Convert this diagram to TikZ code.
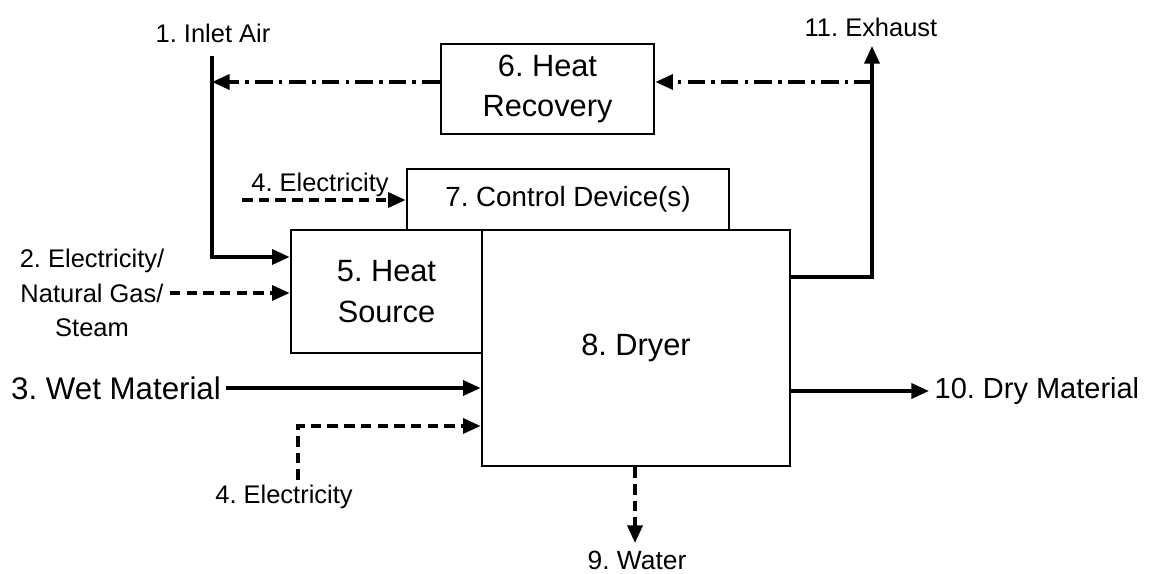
\documentclass[tikz,border=0pt]{standalone}
\usepackage{fontspec}
\setmainfont{Liberation Sans}
\frenchspacing
\usetikzlibrary{arrows.meta}
\begin{document}
\begin{tikzpicture}[x=0.02cm,y=-0.02cm,
    unit/.style={draw,line width=1.6pt,inner sep=0pt,align=center,font=\fontsize{17.5}{23}\selectfont},
    tag/.style={inner sep=3pt,align=center,font=\fontsize{14.5}{19.6}\selectfont},
    bigtag/.style={inner sep=3pt,font=\fontsize{17.8}{21}\selectfont},
    flow/.style={line width=2pt,-{Triangle[length=10pt,width=8.5pt]}},
    elec/.style={flow,dash pattern=on 6pt off 3.5pt},
    recyc/.style={flow,dash pattern=on 10pt off 3.5pt on 2pt off 3.5pt}]
    \useasboundingbox (0,0) rectangle (1160,574);
    % units
    \node[unit,minimum width=4.26cm,minimum height=1.8cm] (recov) at (547.5,89) {6. Heat\\Recovery};
    \node[unit,minimum width=6.44cm,minimum height=1.22cm,font=\fontsize{15.8}{19}\selectfont] (ctrl) at (568,199.5) {7. Control Device(s)};
    \node[unit,minimum width=3.82cm,minimum height=2.46cm] (hsrc) at (386.5,291.5) {5. Heat\\Source};
    \node[unit,minimum width=6.16cm,minimum height=4.72cm] (dryer) at (636,348) {8. Dryer};
    % labels
    \node[tag] (inlet) at (213,33) {1. Inlet Air};
    \node[tag] (exh) at (871,27) {11. Exhaust};
    \node[tag] (elec1) at (320,185) {4. Electricity};
    \node[tag] (fuel) at (92,293) {2. Electricity/\\Natural Gas/\\Steam};
    \node[bigtag] (wet) at (116,388) {3. Wet Material};
    \node[tag] (elec2) at (284,497) {4. Electricity};
    \node[tag,font=\fontsize{15}{18}\selectfont] (water) at (637,560) {9. Water};
    \node[bigtag,font=\fontsize{16.5}{20}\selectfont,anchor=west] (dry) at (929,391) {10. Dry Material};
    % free ends
    \coordinate (airtop) at (212,56);
    \coordinate (exhtop) at (872,46);
    \coordinate (exhjoin) at (872,82);
    \coordinate (e1start) at (242,200);
    \coordinate (e2start) at (298,480);
    % connectors
    \draw[flow] (airtop) |- (hsrc.west |- 0,257);
    \draw[flow] (dryer.east |- 0,277) -| (exhtop);
    \draw[recyc] (exhjoin) -- (recov.east |- exhjoin);
    \draw[recyc] (recov.west |- exhjoin) -- (airtop |- exhjoin);
    \draw[elec] (e1start) -- (ctrl.west |- e1start);
    \draw[elec] (fuel.east) -- (hsrc.west |- fuel.east);
    \draw[flow] (wet.east) -- (dryer.west |- wet.east);
    \draw[elec] (e2start) |- (dryer.west |- 0,426);
    \draw[flow] (dryer.east |- dry.west) -- (dry.west);
    \draw[elec] (dryer.south -| 635,0) -- (635,543);
\end{tikzpicture}
\end{document}
